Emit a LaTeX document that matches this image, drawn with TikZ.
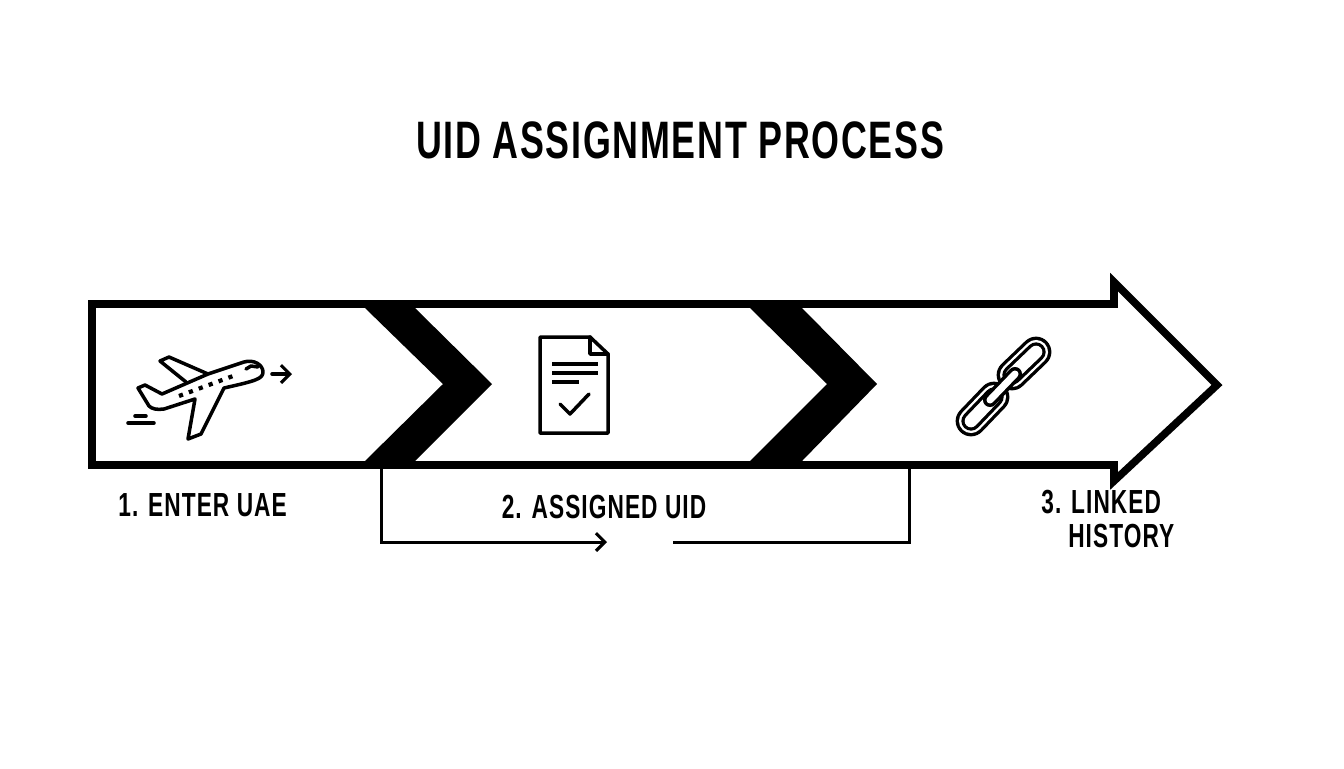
\documentclass[tikz,border=0pt]{standalone}
\usepackage{fontspec}
\newfontfamily\headfont[FakeStretch=0.68, LetterSpace=3.2]{Liberation Sans}
\usetikzlibrary{arrows.meta}
\tikzset{
	heading/.style={font=\headfont\bfseries\fontsize{30}{34}\selectfont, inner sep=0pt},
	steplabel/.style={font=\headfont\bfseries\fontsize{19}{19.5}\selectfont, inner sep=0pt},
	band/.style={draw=black, line width=4.3pt, miter limit=10, fill=white},
	chevron/.style={fill=black, draw=none},
	bracket/.style={draw=black, line width=1.7pt},
	icon/.style={draw=black, line width=2pt, line join=round, line cap=round},
	opentip/.style={-{Straight Barb[length=5pt, width=10pt, line width=1.8pt]}},
}
\begin{document}
\begin{tikzpicture}[x=0.02cm, y=-0.02cm]
	\useasboundingbox (0,0) rectangle (1344,768);
	\node[heading] (title) at (680,140) {UID ASSIGNMENT PROCESS};

	\draw[band] (92,304) -- (1114,304) -- (1114,282) -- (1217,385) -- (1114,481) -- (1114,465) -- (92,465) -- cycle;
	\fill[chevron] (365,308) -- (415,308) -- (492,384) -- (415,461) -- (365,461) -- (443,384) -- cycle;
	\fill[chevron] (750,308) -- (802,308) -- (877,384) -- (802,461) -- (750,461) -- (827,384) -- cycle;

	\node[steplabel, anchor=west] (enter) at (118,505) {1. ENTER UAE};
	\node[steplabel] (assigned) at (604,507) {2. ASSIGNED UID};
	\node[steplabel, anchor=north west, align=left] (linked) at (1041,490) {3. LINKED\\\hspace*{15.3pt}HISTORY};

	\coordinate (bl) at (381,469);
	\coordinate (bm) at (607,542);
	\coordinate (bn) at (673,542);
	\coordinate (br) at (909,469);
	\draw[bracket, opentip] (bl) |- (bm);
	\draw[bracket] (bn) -| (br);

	\draw[icon] (244,362) .. controls (254,359) and (263,365) .. (263,372) .. controls (263,379) and (255,381) .. (224,388) -- (201,434) -- (188,439) -- (195,399) -- (164,409) .. controls (157,410) and (152,409) .. (149,406) -- (138,388) -- (145,385) -- (162,394) -- (208,374) -- cycle;
	\draw[icon] (208,374) -- (169,357) -- (160,361) -- (186,382);
	\draw[icon, line width=2.4pt, line cap=butt, dash pattern=on 2.4pt off 3.6pt] (179,396) -- (233,376);
	\draw[icon] (246,369) -- (251,366) -- (258,367);
	\coordinate (pa) at (272,374);
	\coordinate (pb) at (292,374);
	\draw[icon, opentip] (pa) -- (pb);
	\draw[icon] (135,416) -- (146,416);
	\draw[icon] (128,423) -- (154,423);

	\draw[icon] (590,337) -- (540,337) -- (540,433) -- (608,433) -- (608,354) -- cycle;
	\draw[icon] (590,337) -- (590,354) -- (608,354);
	\draw[icon, line cap=butt] (552,364) -- (598,364);
	\draw[icon, line cap=butt] (552,373) -- (598,373);
	\draw[icon, line cap=butt] (552,382) -- (579,382);
	\draw[icon] (560,404) -- (570,414) -- (589,394);

	\foreach \ax/\ay/\bx/\by in {1036/352/1012/375, 994/397/971/421} {
		\draw[line cap=round, black, line width=17.5pt] (\ax,\ay) -- (\bx,\by);
		\draw[line cap=round, white, line width=13.7pt] (\ax,\ay) -- (\bx,\by);
		\draw[line cap=round, black, line width=11pt] (\ax,\ay) -- (\bx,\by);
		\draw[line cap=round, white, line width=7.2pt] (\ax,\ay) -- (\bx,\by);
	}
	\draw[line cap=round, black, line width=8pt] (1015,374) -- (990,400);
	\draw[line cap=round, white, line width=4pt] (1015,374) -- (990,400);
\end{tikzpicture}
\end{document}
